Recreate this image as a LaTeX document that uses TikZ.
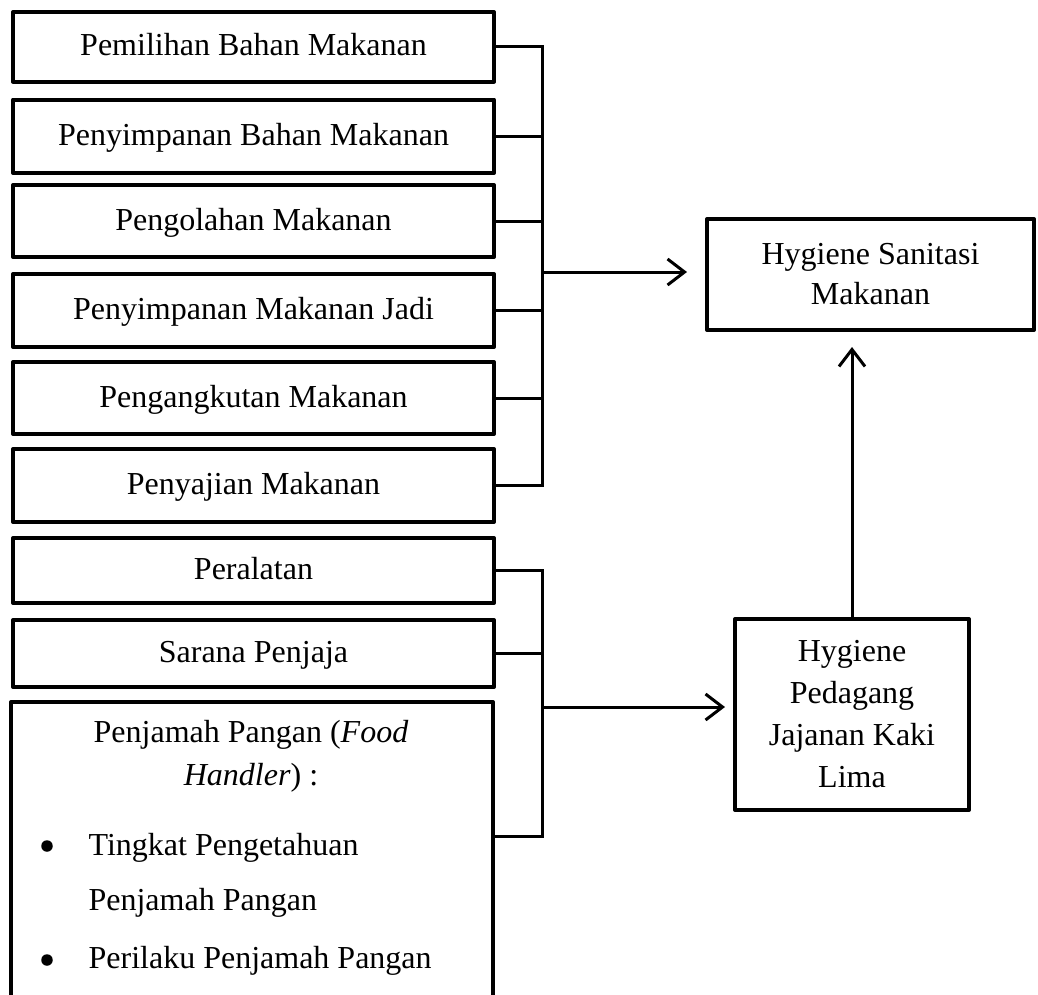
\documentclass[tikz,border=0pt]{standalone}
\usepackage{fontspec}
\setmainfont{Liberation Serif}
\usetikzlibrary{arrows.meta}
\begin{document}
\begin{tikzpicture}[x=1pt,y=-1pt,
  every node/.style={font=\fontsize{32}{40}\selectfont, inner sep=0pt, outer sep=0pt},
  lbox/.style={draw, line width=4pt, line join=round, minimum width=481pt, text height=22.4pt, text depth=4pt},
  rbox/.style={draw, line width=4pt, line join=round, align=center},
  dot/.style={circle, fill, minimum size=11.5pt},
  conn/.style={line width=3pt},
  arr/.style={line width=3pt, -{Straight Barb[length=17pt,width=26pt]}},
]
\useasboundingbox (0,0) rectangle (1038,994);
\clip (0,0) rectangle (1038,994);

% left boxes
\node[lbox, minimum height=69.5pt] (b1) at (253.5,46.75) {Pemilihan Bahan Makanan};
\node[lbox, minimum height=73.5pt] (b2) at (253.5,136.25) {Penyimpanan Bahan Makanan};
\node[lbox, minimum height=72pt] (b3) at (253.5,221) {Pengolahan Makanan};
\node[lbox, minimum height=73pt] (b4) at (253.5,310.5) {Penyimpanan Makanan Jadi};
\node[lbox, minimum height=72pt] (b5) at (253.5,398) {Pengangkutan Makanan};
\node[lbox, minimum height=73pt] (b6) at (253.5,485.5) {Penyajian Makanan};
\node[lbox, minimum height=65pt] (b7) at (253.5,570.5) {Peralatan};
\node[lbox, minimum height=67pt] (b8) at (253.5,653.5) {Sarana Penjaja};
\node[draw, line width=4pt, line join=round, minimum width=482pt, minimum height=400pt] (b9) at (252,902) {};

% text of the food handler box
\node[anchor=base] (t9a) at (251,742) {Penjamah Pangan (\textit{Food}};
\node[anchor=base] (t9b) at (251,785) {\textit{Handler}) :};
\node[dot] (bul1) at (47,846) {};
\node[anchor=base west] (t9c) at (88.6,855) {Tingkat Pengetahuan};
\node[anchor=base west] (t9d) at (88.6,910) {Penjamah Pangan};
\node[dot] (bul2) at (47,960) {};
\node[anchor=base west] (t9e) at (88.6,968) {Perilaku Penjamah Pangan};

% right boxes
\node[rbox, minimum width=327pt, minimum height=111pt] (hs) at (870.5,274.5) {Hygiene Sanitasi\\Makanan};
\node[rbox, minimum width=234pt, minimum height=191pt, font=\fontsize{32}{42}\selectfont] (pd) at (852,714.5) {Hygiene\\Pedagang\\Jajanan Kaki\\Lima};

% connectors
\coordinate (bx) at (542,0);
\draw[conn] (b1.east) -- (b1.east -| bx) -- (b6.east -| bx) -- (b6.east);
\foreach \b in {b2,b3,b4,b5} \draw[conn] (\b.east) -- (\b.east -| bx);
\coordinate (a1) at (542,272);
\draw[arr, shorten >=20pt] (a1) -- (a1 -| hs.west);

\coordinate (c9) at (493,836);
\draw[conn] (b7.east) -- (b7.east -| bx) -- (bx |- c9) -- (c9);
\draw[conn] (b8.east) -- (b8.east -| bx);
\coordinate (a2) at (542,707);
\draw[arr, shorten >=10pt] (a2) -- (a2 -| pd.west);

\draw[arr, shorten >=17pt] (pd.north) -- (pd.north |- hs.south);
\end{tikzpicture}
\end{document}
